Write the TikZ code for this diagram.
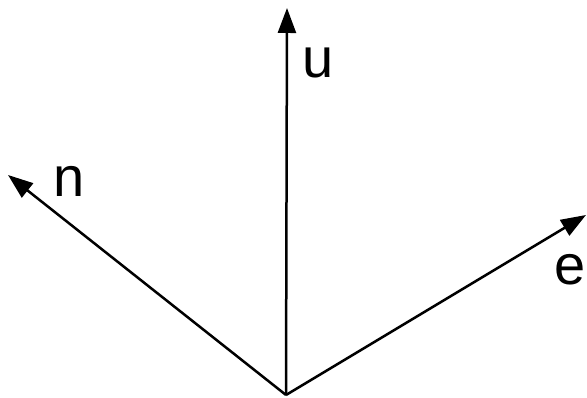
\documentclass[tikz,border=0pt]{standalone}
\usepackage{fontspec}
\setmainfont{Liberation Sans}
\usetikzlibrary{arrows.meta}
\begin{document}
\begin{tikzpicture}[x=1pt,y=1pt,
  vec/.style={line width=2.5pt,-{Triangle[length=25pt,width=18pt]}},
  lbl/.style={inner sep=0pt,anchor=base,font=\fontsize{56}{60}\selectfont}]
\useasboundingbox (0,0) rectangle (587,398);
\coordinate (O) at (286,3);
\coordinate (U) at (287,390);
\coordinate (N) at (8,223);
\coordinate (E) at (586,183);
\draw[vec] (O) -- (U);
\draw[vec] (O) -- (N);
\draw[vec] (O) -- (E);
\node[lbl] (lu) at (318,320) {u};
\node[lbl] (ln) at (69,201) {n};
\node[lbl] (le) at (570,113) {e};
\end{tikzpicture}
\end{document}
